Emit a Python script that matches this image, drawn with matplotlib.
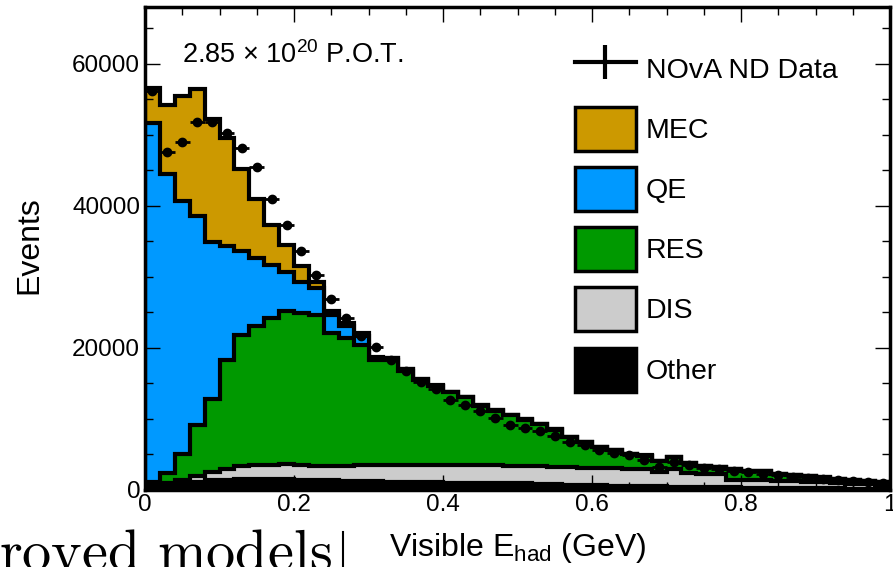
import numpy as np
import matplotlib
matplotlib.use('Agg')
import matplotlib.pyplot as plt
from matplotlib.patches import Patch
from matplotlib.lines import Line2D
from matplotlib.legend_handler import HandlerTuple
from matplotlib.ticker import MultipleLocator, FuncFormatter

plt.rcParams['font.family'] = ['Liberation Sans', 'DejaVu Sans']
plt.rcParams['mathtext.fontset'] = 'custom'
plt.rcParams['mathtext.rm'] = 'Liberation Sans'
plt.rcParams['mathtext.it'] = 'Liberation Sans:italic'

# 50 bins of 0.02 GeV from 0 to 1
bin_width = 0.02
edges = np.arange(51) * bin_width
centers = edges[:-1] + bin_width / 2

# stacked MC components (events per bin), bottom -> top
other = [300, 500, 800, 1100, 1300, 1400, 1500, 1500, 1500, 1450,
         1400, 1350, 1300, 1250, 1200, 1150, 1100, 1050, 1000, 1000,
         950, 950, 900, 900, 850, 850, 800, 750, 700, 650,
         600, 550, 500, 480, 450, 420, 400, 370, 340, 310,
         280, 250, 230, 210, 190, 170, 150, 130, 120, 110]
dis = [200, 400, 600, 800, 1100, 1500, 1800, 1900, 2000, 2150,
       2050, 1950, 2000, 2100, 2200, 2250, 2300, 2400, 2450, 2500,
       2500, 2500, 2500, 2500, 2500, 2450, 2450, 2450, 2450, 2450,
       2400, 2450, 2350, 2370, 2000, 2430, 1900, 1880, 1860, 1040,
       1020, 1050, 1020, 990, 860, 830, 800, 670, 630, 590]
res = [500, 1400, 3600, 7200, 10400, 15300, 18500, 19700, 20600, 21600,
       21450, 21300, 18700, 17950, 17000, 14900, 14800, 13320, 11970, 11050,
       10230, 9545, 8410, 7720, 7085, 6535, 6000, 5250, 4210, 3560,
       2965, 2520, 2170, 1925, 1525, 1725, 1480, 1085, 985, 1535,
       1335, 1240, 990, 790, 790, 690, 540, 490, 440, 390]
qe = [50700, 42100, 35600, 29400, 22100, 16100, 11800, 9500, 7600, 5500,
      4400, 3800, 2600, 1800, 1300, 300, 300, 150, 120, 100,
      80, 70, 60, 50, 40, 40, 30, 30, 25, 25,
      20, 20, 20, 15, 15, 15, 10, 10, 10, 10,
      10, 5, 5, 5, 5, 5, 5, 5, 5, 5]
mec = [4900, 9800, 14800, 17900, 17300, 15300, 11500, 8300, 5600, 3800,
       2200, 900, 600, 300, 300, 100, 100, 80, 60, 50,
       40, 35, 30, 30, 25, 25, 20, 20, 15, 15,
       15, 10, 10, 10, 10, 10, 10, 5, 5, 5,
       5, 5, 5, 5, 5, 5, 5, 5, 5, 5]

# NOvA ND data
data = [56100, 47500, 49000, 51800, 51800, 50300, 48100, 45400, 41000, 37300,
        33600, 30300, 26800, 24200, 21600, 20100, 18300, 16700, 15200, 14100,
        12650, 11900, 11000, 10060, 9100, 8700, 8200, 7500, 6750, 6300,
        5600, 5100, 4900, 4200, 3200, 3900, 3500, 3100, 2900, 2650,
        2400, 2250, 2000, 1800, 1650, 1500, 1350, 1200, 1050, 950]

names = ['Other', 'DIS', 'RES', 'QE', 'MEC']
colors = ['black', '#cccccc', '#009900', '#0099ff', '#cc9900']

fig = plt.figure(figsize=(8.93, 5.67), dpi=100)
ax = fig.add_axes([145 / 893, 1 - 489.5 / 567, 745 / 893, 482.5 / 567])

# draw cumulative stack, top layer first so lower ones sit over it
cum = np.cumsum(np.array([other, dis, res, qe, mec], dtype=float), axis=0)
for i in reversed(range(len(names))):
    ax.stairs(cum[i], edges, fill=True, facecolor=colors[i],
              edgecolor='black', linewidth=3, zorder=1)

data = np.array(data, dtype=float)
ax.errorbar(centers, data, xerr=bin_width / 2, yerr=np.sqrt(data), fmt='o',
            color='black', ms=6, elinewidth=2, capsize=0, zorder=5)

ax.set_xlim(0, 1)
ax.set_ylim(0, 68000)
ax.xaxis.set_major_locator(MultipleLocator(0.2))
ax.xaxis.set_minor_locator(MultipleLocator(0.05))
ax.yaxis.set_major_locator(MultipleLocator(20000))
ax.yaxis.set_minor_locator(MultipleLocator(5000))
ax.xaxis.set_major_formatter(FuncFormatter(lambda v, p: '%g' % v))
ax.yaxis.set_major_formatter(FuncFormatter(lambda v, p: '%d' % v))
ax.tick_params(which='both', direction='in', top=True, right=True, labelsize=17.5)
ax.tick_params(which='major', length=11, width=1)
ax.tick_params(which='minor', length=5.5, width=1)
for s in ax.spines.values():
    s.set_linewidth(2.5)

ax.set_ylabel('Events', fontsize=23)
ax.yaxis.set_label_coords(-0.135, 0.507)
ax.set_xlabel(r'Visible E$_{\mathrm{had}}$ (GeV)', fontsize=23)
ax.xaxis.set_label_coords(0.5, -0.085)

ax.text(0.0497, 0.884, r'2.85 $\times$ 10$^{20}$ P.O.T.', fontsize=19.5,
        transform=ax.transAxes, va='baseline', ha='left')

# legend: the data entry is a plain cross
data_handle = (Line2D([], [], color='black', lw=3),
               Line2D([], [], color='black', marker='|', ms=25, mew=3, ls='none'))
handles = [data_handle]
labels = ['NOvA ND Data']
for i in reversed(range(len(names))):
    handles.append(Patch(facecolor=colors[i], edgecolor='black', linewidth=2.5))
    labels.append(names[i])
ax.legend(handles, labels, loc='upper left', bbox_to_anchor=(0.577, 0.918),
          frameon=False, fontsize=20.5, handlelength=2.15, handleheight=2.0,
          labelspacing=0.57, handletextpad=0.35, borderpad=0, borderaxespad=0,
          handler_map={tuple: HandlerTuple(ndivide=1)})

# slide text cut off below the plot
fig.text(332 / 893, -2.5 / 567, r'$\mathrm{roved\ models}$', math_fontfamily='cm',
         fontsize=42, ha='right', va='baseline')
fig.add_artist(Line2D([343 / 893, 343 / 893], [0, 35 / 567],
                      transform=fig.transFigure, color='black', lw=1.5))

plt.savefig('out.png', dpi=100)
